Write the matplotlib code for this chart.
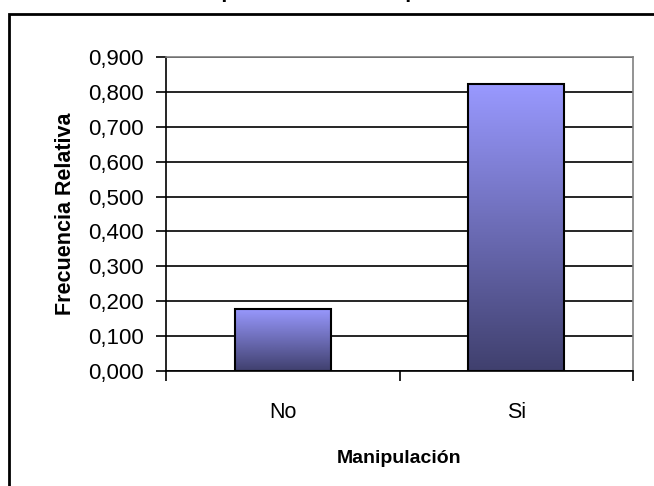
import numpy as np
import matplotlib.pyplot as plt
from matplotlib.patches import Rectangle
from matplotlib.ticker import FuncFormatter
from matplotlib.colors import LinearSegmentedColormap

plt.rcParams['font.family'] = ['Liberation Sans', 'DejaVu Sans']

categorias = ["No", "Si"]
frecuencia = [0.178, 0.822]
titulo = "Respuesta sobre Manipulación"

fig = plt.figure(figsize=(6.54, 4.86), dpi=100)

# marco exterior (recortado a la derecha y abajo como en la imagen)
fig.patches.append(Rectangle((8.5 / 654, -0.05), 1.2, 1 - 13.5 / 486 + 0.05,
                             transform=fig.transFigure, fill=False,
                             edgecolor="black", linewidth=2))
fig.text(0.515, 1 + 1.5 / 486, titulo, ha="center", va="baseline",
         fontsize=15, fontweight="bold")

ax = fig.add_axes([166 / 654, (486 - 371) / 486, (633 - 166) / 654, (371 - 57) / 486])

cmap = LinearSegmentedColormap.from_list("g", [(0.25, 0.25, 0.43), (0.6, 0.6, 1.0)])
grad = np.linspace(0, 1, 256).reshape(-1, 1)
ancho = 0.41
x = np.arange(len(categorias))
for xi, v in zip(x, frecuencia):
    im = ax.imshow(grad, cmap=cmap, origin="lower", aspect="auto",
                   extent=(xi - ancho / 2, xi + ancho / 2, 0, v), zorder=3)
    r = Rectangle((xi - ancho / 2, 0), ancho, v, fill=False,
                  edgecolor="black", linewidth=1.5, zorder=4)
    ax.add_patch(r)
    im.set_clip_path(r)

ax.set_xlim(-0.5, 1.5)
ax.set_ylim(0, 0.9)
ax.set_yticks(np.arange(0, 0.91, 0.1))
ax.yaxis.set_major_formatter(FuncFormatter(lambda v, p: f"{v:.3f}".replace(".", ",")))
ax.set_xticks(x)
ax.set_xticklabels(categorias)
ax.set_xticks([-0.5, 0.5, 1.5], minor=True)
ax.tick_params(axis="x", which="major", length=0, pad=22, labelsize=15.5)
ax.tick_params(axis="x", which="minor", length=7, width=1.2, direction="out")
ax.tick_params(axis="y", length=7, width=1.2, direction="out", labelsize=16, pad=9)
ax.grid(axis="y", color="black", linewidth=1.2, zorder=1)
ax.set_axisbelow(True)

for s in ["left", "bottom"]:
    ax.spines[s].set_color("black")
    ax.spines[s].set_linewidth(1.2)
for s in ["top", "right"]:
    ax.spines[s].set_color("gray")
    ax.spines[s].set_linewidth(1.2)

ax.set_ylabel("Frecuencia Relativa", fontsize=15.5, fontweight="bold", labelpad=9)
ax.set_xlabel("Manipulación", fontsize=14, fontweight="bold", labelpad=20)

fig.savefig("out.png", dpi=100)
